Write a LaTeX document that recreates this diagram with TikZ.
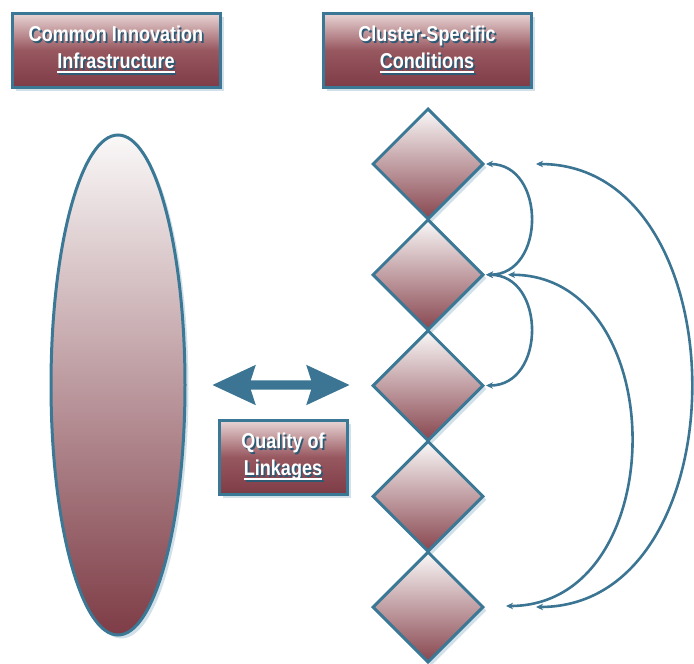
\documentclass[tikz,border=0pt]{standalone}
\usepackage{fontspec}
\usepackage{graphicx}
\setmainfont{Liberation Sans}
\usetikzlibrary{shapes.geometric,shapes.arrows,shadows,arrows.meta}
\definecolor{bord}{HTML}{3A7896}
\definecolor{arrblue}{HTML}{3B7593}
\definecolor{shblue}{HTML}{A6C2D4}
\definecolor{maroon}{HTML}{7E3C46}
\definecolor{boxtop}{HTML}{EAD6D6}
\definecolor{boxmid}{HTML}{985860}
\definecolor{paletop}{HTML}{FAF8F8}
\definecolor{diabot}{HTML}{88464F}
\definecolor{txtsh}{HTML}{2C5A75}
\newcommand\shl[1]{\leavevmode\scalebox{0.84}[1]{\rlap{\kern2pt\raisebox{-2pt}{\textcolor{txtsh}{#1}}}\textcolor{white}{#1}}}
\newcommand\ulin[1]{\setbox0\hbox{#1}\rlap{\raisebox{-4.5pt}{\rule{\wd0}{2pt}}}\box0}
\tikzset{
  titlebox/.style={rectangle, draw=bord, line width=3pt,
    top color=boxtop, bottom color=maroon, middle color=boxmid,
    drop shadow={shadow xshift=4pt, shadow yshift=-4pt, fill=shblue},
    align=center, inner sep=0pt,
    font=\bfseries\fontsize{21.5}{27}\selectfont},
  facet/.style={diamond, minimum width=111pt, minimum height=111pt, inner sep=0pt,
    draw=bord, line width=3pt, top color=paletop, bottom color=diabot,
    drop shadow={shadow xshift=3.5pt, shadow yshift=-3.5pt, fill=shblue}},
  conn/.style={draw=arrblue, line width=2.6pt,
    {Stealth[length=7pt,width=6.5pt]}-{Stealth[length=7pt,width=6.5pt]}}
}
\begin{document}
\begin{tikzpicture}[x=1pt,y=-1pt]
\useasboundingbox (0,0) rectangle (694,664);

% title boxes
\node[titlebox, minimum width=208pt, minimum height=74pt] (cii) at (116,50)
  {\shl{Common Innovation}\\\shl{\ulin{Infrastructure}}};
\node[titlebox, minimum width=208pt, minimum height=74pt] (csc) at (427,50)
  {\shl{Cluster-Specific}\\\shl{\ulin{Conditions}}};

% ellipse
\node[ellipse, minimum width=134pt, minimum height=500pt, inner sep=0pt,
  draw=bord, line width=3pt, top color=paletop, bottom color=maroon,
  drop shadow={shadow xshift=3.5pt, shadow yshift=-3.5pt, fill=shblue}] (infra) at (118,385) {};

% diamonds
\node[facet] (d1) at (428,164) {};
\node[facet] (d2) at (428,274.75) {};
\node[facet] (d3) at (428,385.5) {};
\node[facet] (d4) at (428,496.25) {};
\node[facet] (d5) at (428,607) {};

% double arrow
\node[double arrow, fill=arrblue, minimum height=137pt, inner sep=4.5pt,
  double arrow head extend=15.5pt, double arrow tip angle=50,
  double arrow head indent=5pt] (link) at (281,385) {};

% quality box
\node[titlebox, minimum width=128pt, minimum height=74pt] (qol) at (283,457)
  {\shl{Quality of}\\\shl{\ulin{Linkages}}};

% connectors
\draw[conn] ([xshift=1pt]d1.east) .. controls +(60,0) and +(60,0) .. ([xshift=1pt]d2.east);
\draw[conn] ([xshift=1pt]d2.east) .. controls +(60,0) and +(60,0) .. ([xshift=1pt]d3.east);
\coordinate (m1) at ([xshift=23pt]d2.east);
\coordinate (m2) at ([xshift=21pt,yshift=1pt]d5.east);
\draw[conn] (m1) .. controls +(165,0) and +(167,0) .. (m2);
\coordinate (o1) at ([xshift=51pt]d1.east);
\coordinate (o2) at ([xshift=51pt]d5.east);
\draw[conn] (o1) .. controls +(207,0) and +(207,0) .. (o2);
\end{tikzpicture}
\end{document}
